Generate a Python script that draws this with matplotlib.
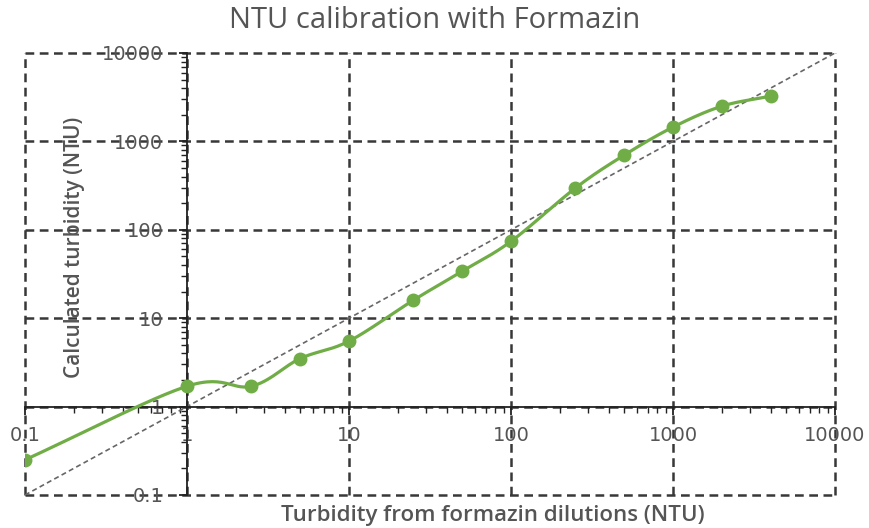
import matplotlib.pyplot as plt
import numpy as np

# formazin dilutions vs calculated turbidity (NTU)
formazin_ntu = [0.1, 1, 2.5, 5, 10, 25, 50, 100, 250, 500, 1000, 2000, 4000]
calc_ntu = [0.25, 1.7, 1.7, 3.5, 5.5, 16, 34, 74, 297, 700, 1450, 2500, 3250]
decades = [0.1, 1, 10, 100, 1000, 10000]
decade_labels = ['0.1', '1', '10', '100', '1000', '10000']


def smooth(xs, ys, n=30):
    # Catmull-Rom spline through the points (in log space)
    x = np.log10(xs)
    y = np.log10(ys)
    px = np.concatenate([[2 * x[0] - x[1]], x, [2 * x[-1] - x[-2]]])
    py = np.concatenate([[2 * y[0] - y[1]], y, [2 * y[-1] - y[-2]]])
    outx, outy = [], []
    t = np.linspace(0, 1, n)
    for i in range(1, len(px) - 2):
        for p, out in ((px, outx), (py, outy)):
            p0, p1, p2, p3 = p[i - 1], p[i], p[i + 1], p[i + 2]
            out.extend(0.5 * ((2 * p1) + (-p0 + p2) * t
                              + (2 * p0 - 5 * p1 + 4 * p2 - p3) * t ** 2
                              + (-p0 + 3 * p1 - 3 * p2 + p3) * t ** 3))
    return 10 ** np.array(outx), 10 ** np.array(outy)


fig = plt.figure(figsize=(8.69, 5.28), dpi=100)
ax = fig.add_axes([25 / 869, 1 - 495 / 528, 810 / 869, 442 / 528])
ax.set_xscale('log')
ax.set_yscale('log')
ax.set_xlim(0.1, 10000)
ax.set_ylim(0.1, 10000)

grid_kw = dict(color='#383838', lw=1.8, dashes=(3.5, 2.2), clip_on=False, zorder=1)
for d in decades:
    ax.axvline(d, **grid_kw)
    ax.axhline(d, **grid_kw)

# 1:1 reference line
ax.plot([0.1, 10000], [0.1, 10000], color='#666666', lw=1.2, dashes=(3, 2), zorder=2)

sx, sy = smooth(formazin_ntu, calc_ntu)
ax.plot(sx, sy, color='#70AD47', lw=2.3, zorder=3)
ax.plot(formazin_ntu, calc_ntu, 'o', color='#70AD47', ms=9, zorder=4)

# axes cross at 1
for s in ['top', 'right']:
    ax.spines[s].set_visible(False)
ax.spines['left'].set_position(('data', 1))
ax.spines['bottom'].set_position(('data', 1))
for s in ['left', 'bottom']:
    ax.spines[s].set_color('#222222')
    ax.spines[s].set_linewidth(1.3)
    ax.spines[s].set_zorder(2.5)

ax.set_xticks(decades)
ax.set_xticklabels(decade_labels)
ax.set_yticks(decades)
ax.set_yticklabels(decade_labels)
ax.tick_params(which='major', length=6, width=1.3, color='#222222', direction='out',
               labelsize=14, labelcolor='#555555')
ax.tick_params(which='minor', length=4, width=1.0, color='#222222', direction='out')
ax.tick_params(axis='x', which='major', pad=8)
ax.tick_params(axis='y', which='major', pad=11)

fig.text(0.5, 1 - 20 / 528, 'NTU calibration with Formazin', ha='center', va='center',
         fontsize=21, color='#555555', family='Open Sans')
fig.text(493 / 869, 1 - 515 / 528, 'Turbidity from formazin dilutions (NTU)', ha='center',
         va='center', fontsize=16, color='#555555', fontweight='semibold', family='Open Sans')
fig.text(75 / 869, 1 - 247 / 528, 'Calculated turbidity (NTU)', ha='center', va='center',
         rotation=90, fontsize=15, color='#555555', fontweight='semibold', family='Open Sans')

fig.savefig('out.png', dpi=100)
